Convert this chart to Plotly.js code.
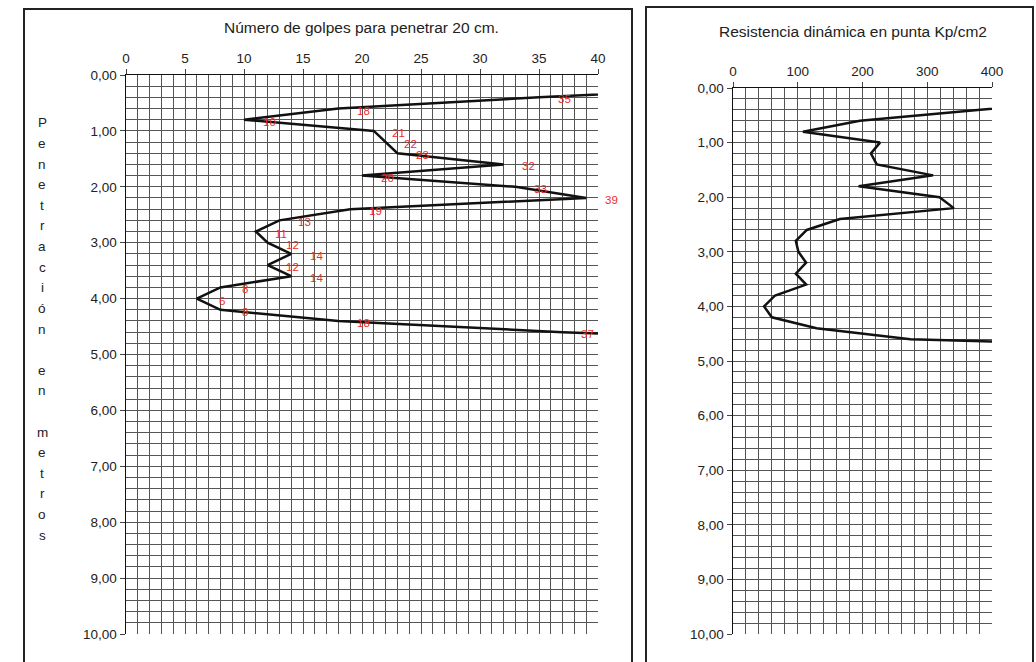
<!DOCTYPE html>
<html>
<head>
<meta charset="utf-8">
<script src="https://cdn.plot.ly/plotly-3.0.1.min.js"></script>
<style>html,body{margin:0;padding:0;background:#fff;}#chart{width:1036px;height:662px;}</style>
</head>
<body>
<div id="chart"></div>
<script>
// Depth of each reading (m)
const depth = [0.2, 0.4, 0.6, 0.8, 1.0, 1.2, 1.4, 1.6, 1.8, 2.0, 2.2, 2.4, 2.6, 2.8, 3.0, 3.2, 3.4, 3.6, 3.8, 4.0, 4.2, 4.4, 4.6, 4.8];
// Number of blows to penetrate 20 cm
const blows = [55, 35, 18, 10, 21, 22, 23, 32, 20, 33, 39, 19, 13, 11, 12, 14, 12, 14, 8, 6, 8, 18, 37, 60];
// Dynamic point resistance (Kp/cm2)
const resistance = [555, 382, 196, 108, 227, 213, 222, 309, 194, 319, 341, 165, 114, 97, 101, 113, 97, 113, 65, 48, 60, 129, 274, 850];

const leftTitle = 'Número de golpes para penetrar 20 cm.';
const rightTitle = 'Resistencia dinámica en punta Kp/cm2';
const yTitleLetters = ['P','e','n','e','t','r','a','c','i','ó','n','','e','n','','m','e','t','r','o','s'];

const W = 1036, H = 662;
const px = v => v / W;
const py = v => 1 - v / H;
const FONT = 'Liberation Sans, Arial, sans-serif';
const GRID = '#555';

const traces = [
  {x: blows, y: depth, xaxis: 'x', yaxis: 'y', mode: 'lines', line: {color: '#111', width: 2.5}, hoverinfo: 'skip'},
  {x: resistance, y: depth, xaxis: 'x2', yaxis: 'y2', mode: 'lines', line: {color: '#111', width: 2.5}, hoverinfo: 'skip'}
];

function xAxis(domain, range, dtick, minor) {
  return {
    domain: domain, range: range, side: 'top',
    dtick: dtick, tick0: 0, ticks: 'outside', ticklen: 5, tickcolor: '#444', tickwidth: 1,
    showgrid: true, gridcolor: GRID, gridwidth: 1,
    minor: {dtick: minor, showgrid: true, gridcolor: GRID, gridwidth: 1, ticks: ''},
    showline: true, linecolor: '#111', linewidth: 1.5, zeroline: false,
    tickfont: {family: FONT, size: 13.5, color: '#222'}, fixedrange: true
  };
}
function yAxis(domain) {
  return {
    domain: domain, range: [10, 0], dtick: 1, tick0: 0, tickformat: '.2f',
    ticks: 'outside', ticklen: 5, tickcolor: '#444', tickwidth: 1,
    showgrid: true, gridcolor: GRID, gridwidth: 1,
    minor: {dtick: 0.2, showgrid: true, gridcolor: GRID, gridwidth: 1, ticks: ''},
    showline: true, linecolor: '#111', linewidth: 1.5, zeroline: false,
    tickfont: {family: FONT, size: 13.5, color: '#222'}, fixedrange: true
  };
}

const xa = xAxis([px(126), px(598)], [0, 40], 5, 1); xa.anchor = 'y';
const ya = yAxis([py(634), py(75)]); ya.anchor = 'x';
const xa2 = xAxis([px(733), px(992)], [0, 400], 100, 20); xa2.anchor = 'y2';
const ya2 = yAxis([py(634), py(88)]); ya2.anchor = 'x2';

const annotations = [];
annotations.push({xref: 'paper', yref: 'paper', x: px(361), y: py(28), text: leftTitle, showarrow: false,
  xanchor: 'center', yanchor: 'middle', font: {family: FONT, size: 15.5, color: '#222'}});
annotations.push({xref: 'paper', yref: 'paper', x: px(853), y: py(31), text: rightTitle, showarrow: false,
  xanchor: 'center', yanchor: 'middle', font: {family: FONT, size: 15.5, color: '#222'}});
yTitleLetters.forEach((ch, i) => {
  if (!ch) return;
  annotations.push({xref: 'paper', yref: 'paper', x: px(42), y: py(123 + i * 20.6), text: ch, showarrow: false,
    xanchor: 'center', yanchor: 'middle', font: {family: FONT, size: 13.5, color: '#222'}});
});
blows.forEach((b, i) => {
  if (b > 40) return;
  annotations.push({xref: 'x', yref: 'y', x: b, y: depth[i], text: String(b), showarrow: false,
    xanchor: 'center', yanchor: 'middle', xshift: 25, yshift: -2,
    font: {family: FONT, size: 11.5, color: '#ee2a2a'}});
});

const shapes = [
  {type: 'rect', xref: 'paper', yref: 'paper', x0: px(24), x1: px(632), y0: -0.05, y1: py(9),
   line: {color: '#222', width: 2}},
  {type: 'rect', xref: 'paper', yref: 'paper', x0: px(646), x1: px(1033), y0: -0.05, y1: py(7),
   line: {color: '#222', width: 2}}
];

const layout = {
  width: W, height: H, margin: {l: 0, r: 0, t: 0, b: 0},
  paper_bgcolor: '#fff', plot_bgcolor: '#fff',
  separators: ',.', showlegend: false,
  font: {family: FONT, size: 13, color: '#222'},
  xaxis: xa, yaxis: ya, xaxis2: xa2, yaxis2: ya2,
  annotations: annotations, shapes: shapes
};

Plotly.newPlot('chart', traces, layout, {staticPlot: true, displayModeBar: false});
</script>
</body>
</html>
